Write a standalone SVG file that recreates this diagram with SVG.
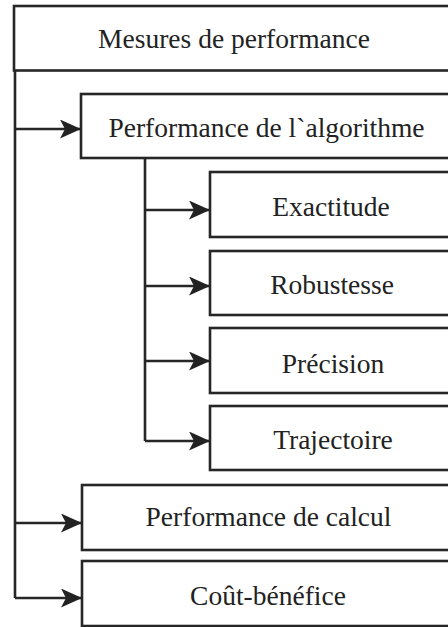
<svg xmlns="http://www.w3.org/2000/svg" width="448" height="627" viewBox="0 0 448 627">
<style>
.box{fill:#fff;stroke:#262626;stroke-width:2.6}
.lbl{font-family:"Liberation Serif","Times New Roman",serif;font-size:27.5px;fill:#222;text-anchor:middle}
.con{fill:none;stroke:#262626;stroke-width:2.6}
</style>
<defs>
<marker id="ah" viewBox="0 0 21 19" refX="20" refY="9.5" markerWidth="21" markerHeight="19" markerUnits="userSpaceOnUse" orient="auto">
<path d="M0,0 L21,9.5 L0,19 L5,9.5 z" fill="#222"/>
</marker>
</defs>
<rect width="448" height="627" fill="#fff"/>
<g id="connectors">
<path class="con" d="M15,70 V598"/>
<path class="con" d="M15,129 H80" marker-end="url(#ah)"/>
<path class="con" d="M15,523 H81" marker-end="url(#ah)"/>
<path class="con" d="M15,598 H81" marker-end="url(#ah)"/>
<path class="con" d="M145,158 V441"/>
<path class="con" d="M145,210 H209" marker-end="url(#ah)"/>
<path class="con" d="M145,286 H209" marker-end="url(#ah)"/>
<path class="con" d="M145,361 H209" marker-end="url(#ah)"/>
<path class="con" d="M145,441 H209" marker-end="url(#ah)"/>
</g>
<g id="mesures">
<rect class="box" x="14" y="6" width="450" height="64.5"/>
<text class="lbl" x="234" y="48">Mesures de performance</text>
</g>
<g id="algo">
<rect class="box" x="81" y="94" width="380" height="64"/>
<text class="lbl" x="266.5" y="137">Performance de l`algorithme</text>
</g>
<g id="exactitude">
<rect class="box" x="210" y="172" width="250" height="65"/>
<text class="lbl" x="331" y="216">Exactitude</text>
</g>
<g id="robustesse">
<rect class="box" x="210" y="251" width="250" height="64"/>
<text class="lbl" x="332" y="294">Robustesse</text>
</g>
<g id="precision">
<rect class="box" x="210" y="328" width="250" height="65"/>
<text class="lbl" x="333" y="373">Précision</text>
</g>
<g id="trajectoire">
<rect class="box" x="210" y="406" width="250" height="64"/>
<text class="lbl" x="333" y="449">Trajectoire</text>
</g>
<g id="calcul">
<rect class="box" x="82" y="485" width="380" height="65"/>
<text class="lbl" x="268.5" y="526">Performance de calcul</text>
</g>
<g id="cout">
<rect class="box" x="82" y="561" width="380" height="65"/>
<text class="lbl" x="268" y="605">Coût-bénéfice</text>
</g>
</svg>
